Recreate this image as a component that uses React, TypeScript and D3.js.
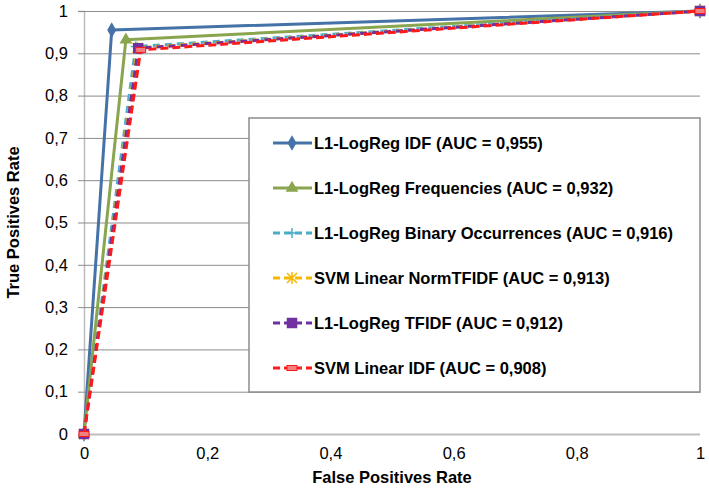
import { useEffect, useRef } from "react";
import { axisBottom, axisLeft, scaleLinear, select, line, symbol, symbolDiamond, symbolTriangle, symbolSquare } from "d3";

const seriesNames = [
  "L1-LogReg IDF (AUC = 0,955)",
  "L1-LogReg Frequencies (AUC = 0,932)",
  "L1-LogReg Binary Occurrences (AUC = 0,916)",
  "SVM Linear NormTFIDF (AUC = 0,913)",
  "L1-LogReg TFIDF (AUC = 0,912)",
  "SVM Linear IDF (AUC = 0,908)",
];
const seriesFpr = [
  [0, 0.045, 1],
  [0, 0.068, 1],
  [0, 0.084, 1],
  [0, 0.087, 1],
  [0, 0.088, 1],
  [0, 0.092, 1],
];
const seriesTpr = [
  [0, 0.955, 1],
  [0, 0.932, 1],
  [0, 0.916, 1],
  [0, 0.913, 1],
  [0, 0.912, 1],
  [0, 0.908, 1],
];
const xTicks = [0, 0.2, 0.4, 0.6, 0.8, 1];
const yTicks = [0, 0.1, 0.2, 0.3, 0.4, 0.5, 0.6, 0.7, 0.8, 0.9, 1];

const colors = ["#4572A7", "#89A54E", "#4BACC6", "#F5B800", "#7030A0", "#FF1A1A"];
const dashes = [null, null, "7,5", "7,5", "7,5", "8,4"];
const markers = ["diamond", "triangle", "plus", "star", "square", "dash"];

const W = 709;
const H = 490;
const margin = { top: 11, right: 9, bottom: 56, left: 84 };
const fmt = (v: number) => String(v).replace(".", ",");

function Marker({ kind, x, y, color }: { kind: string; x: number; y: number; color: string }) {
  if (kind === "diamond") return <path d={symbol(symbolDiamond, 70)()!} transform={`translate(${x},${y})`} fill={color} />;
  if (kind === "triangle") return <path d={symbol(symbolTriangle, 70)()!} transform={`translate(${x},${y})`} fill={color} />;
  if (kind === "square")
    return <path d={symbol(symbolSquare, 110)()!} transform={`translate(${x},${y})`} fill={color} />;
  if (kind === "plus")
    return (
      <path d={`M${x - 5},${y}H${x + 5}M${x},${y - 5}V${y + 5}`} stroke={color} strokeWidth={1.5} />
    );
  if (kind === "star")
    return (
      <path
        d={`M${x - 5},${y - 5}L${x + 5},${y + 5}M${x - 5},${y + 5}L${x + 5},${y - 5}M${x},${y - 6}V${y + 6}`}
        stroke={color}
        strokeWidth={1.5}
      />
    );
  return <rect x={x - 5} y={y - 2.5} width={10} height={5} fill="#F08080" stroke={color} strokeWidth={1} />;
}

function AxisX({ scale, height }: { scale: any; height: number }) {
  const ref = useRef<SVGGElement>(null);
  useEffect(() => {
    if (!ref.current) return;
    const g = select(ref.current);
    g.call(axisBottom(scale).tickValues(xTicks).tickSize(0).tickPadding(13).tickFormat((d: any) => fmt(+d)));
    g.select(".domain").remove();
    g.selectAll("text").attr("font-size", 16.5).attr("fill", "#000").attr("font-family", "Liberation Sans, Arial");
  }, [scale]);
  return <g ref={ref} transform={`translate(0,${height})`} />;
}

function AxisY({ scale, width }: { scale: any; width: number }) {
  const ref = useRef<SVGGElement>(null);
  useEffect(() => {
    if (!ref.current) return;
    const g = select(ref.current);
    g.call(axisLeft(scale).tickValues(yTicks).tickSize(6).tickPadding(10).tickFormat((d: any) => fmt(+d)));
    g.select(".domain").attr("stroke", "#BDBDBD").attr("stroke-width", 1.5);
    g.selectAll(".tick line").attr("stroke", "#8C8C8C");
    g.selectAll(".tick")
      .append("line")
      .attr("x1", 0)
      .attr("x2", width)
      .attr("stroke", (d: any) => (d === 0 ? "#BDBDBD" : "#8C8C8C"))
      .attr("stroke-width", (d: any) => (d === 0 ? 2 : 1));
    g.selectAll("text").attr("font-size", 16.5).attr("fill", "#000").attr("font-family", "Liberation Sans, Arial");
  }, [scale, width]);
  return <g ref={ref} />;
}

export default function App() {
  const width = W - margin.left - margin.right;
  const height = H - margin.top - margin.bottom;
  const x = scaleLinear().domain([0, 1]).range([0, width]);
  const y = scaleLinear().domain([0, 1]).range([height, 0]);

  const legend = { x: 249 - margin.left, y: 118 - margin.top, w: 451, h: 274 };

  return (
    <svg width={W} height={H} style={{ position: "absolute", left: 0, top: 0 }} fontFamily="Liberation Sans, Arial">
      <rect width={W} height={H} fill="#fff" />
      <g transform={`translate(${margin.left},${margin.top})`}>
        <AxisY scale={y} width={width} />
        <AxisX scale={x} height={height} />
        {seriesNames.map((name, si) => {
          const pts = seriesFpr[si].map((f, i) => [x(f), y(seriesTpr[si][i])] as [number, number]);
          const d = line()(pts)!;
          return (
            <g key={name}>
              <path
                d={d}
                fill="none"
                stroke={colors[si]}
                strokeWidth={3}
                strokeDasharray={dashes[si] ?? undefined}
                strokeLinejoin="round"
              />
              {pts.map(([px, py], i) => (
                <Marker key={i} kind={markers[si]} x={px} y={py} color={colors[si]} />
              ))}
            </g>
          );
        })}
        <g transform={`translate(${legend.x},${legend.y})`}>
          <rect width={legend.w} height={legend.h} fill="#fff" stroke="#8C8C8C" strokeWidth={1.5} />
          {seriesNames.map((name, si) => {
            const cy = 25 + si * 45;
            return (
              <g key={name}>
                <line
                  x1={24}
                  x2={63}
                  y1={cy}
                  y2={cy}
                  stroke={colors[si]}
                  strokeWidth={3}
                  strokeDasharray={dashes[si] ? "7,4" : undefined}
                />
                <Marker kind={markers[si]} x={43} y={cy} color={colors[si]} />
                <text x={65} y={cy} dy="0.35em" fontSize={16.5} fontWeight="bold" fill="#000">
                  {name}
                </text>
              </g>
            );
          })}
        </g>
      </g>
      <text x={margin.left + width / 2} y={483} textAnchor="middle" fontSize={16.5} fontWeight="bold">
        False Positives Rate
      </text>
      <text
        transform={`translate(19,${margin.top + height / 2}) rotate(-90)`}
        textAnchor="middle"
        fontSize={16.5}
        fontWeight="bold"
      >
        True Positives Rate
      </text>
    </svg>
  );
}
